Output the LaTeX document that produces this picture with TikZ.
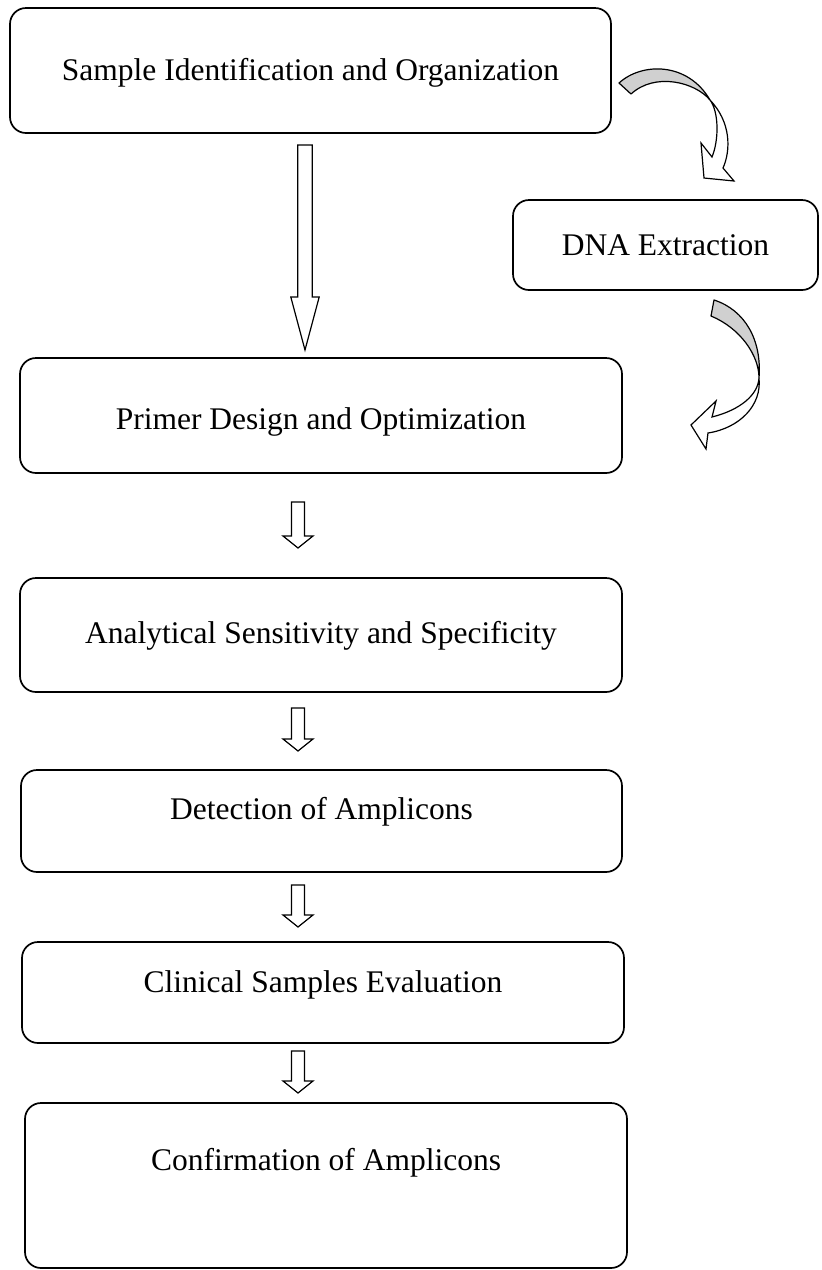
\documentclass[tikz,border=0pt]{standalone}
\usepackage{fontspec}
\setmainfont{Liberation Serif}
\definecolor{arrowgray}{RGB}{208,208,208}
\newcommand{\BlockDown}[6]{% cx, ytop, ybase, ytip, shaft half, head half
  \draw[blockarrow] (#1-#5,#2) -- (#1+#5,#2) -- (#1+#5,#3) -- (#1+#6,#3) -- (#1,#4)
    -- (#1-#6,#3) -- (#1-#5,#3) -- cycle;}
\begin{document}
\begin{tikzpicture}[x=1pt,y=-1pt,
  stepbox/.style={draw, line width=1.7pt, rounded corners=16pt, fill=white,
    font=\fontsize{31.5}{37}\selectfont, text height=20.85pt, text depth=0pt,
    inner sep=0pt, outer sep=0pt},
  textup/.style={text depth=#1pt},
  textdown/.style={text height=#1pt},
  blockarrow/.style={draw, line width=1.2pt, fill=white, line join=miter},
  curvegray/.style={draw, line width=1.2pt, fill=arrowgray, line join=round},
  curvewhite/.style={draw, line width=1.2pt, fill=white, line join=miter}]
\useasboundingbox (0,0) rectangle (822,1270);

\node[stepbox, minimum width=601pt, minimum height=125pt] (b1) at (310.5,70.5) {Sample Identification and Organization};
\node[stepbox, minimum width=305pt, minimum height=90pt] (b2) at (665.5,245) {DNA Extraction};
\node[stepbox, textdown=28.85, minimum width=602pt, minimum height=115pt] (b3) at (321,415.5) {Primer Design and Optimization};
\node[stepbox, textup=4, minimum width=602pt, minimum height=114pt] (b4) at (321,635) {Analytical Sensitivity and Specificity};
\node[stepbox, textup=24, minimum width=601pt, minimum height=102pt] (b5) at (321.5,821) {Detection of Amplicons};
\node[stepbox, textup=20, minimum width=602pt, minimum height=101pt] (b6) at (323,992.5) {Clinical Samples Evaluation};
\node[stepbox, textup=50, minimum width=602pt, minimum height=165pt] (b7) at (326,1185.5) {Confirmation of Amplicons};

% long block arrow b1 -> b3
\BlockDown{305}{145}{297}{350}{7.2}{14.2}
% short block arrows
\BlockDown{298}{502}{536}{548}{6.5}{15}
\BlockDown{298}{708}{739}{751}{6.5}{15}
\BlockDown{298}{885}{915}{927}{6.5}{15}
\BlockDown{298}{1051}{1081}{1093}{6.5}{15}

% curved arrow b1 -> b2
\coordinate (xa) at (710,100);
\draw[curvewhite] (xa) .. controls (719,112) and (719,140) .. (712,157)
  -- (701,143) -- (704,178) -- (734,181) -- (723,168)
  .. controls (731,150) and (731,122) .. (xa);
\draw[curvegray] (619,83) .. controls (642,62) and (688,62) .. (xa)
  .. controls (695,82) and (655,72) .. (631,94) -- cycle;

% curved arrow b2 -> b3
\coordinate (xb) at (759,378);
\draw[curvewhite] (xb) .. controls (758,395) and (740,410) .. (712,417)
  -- (716,401) -- (691,425) -- (706,449) -- (708,433)
  .. controls (740,428) and (762,405) .. (xb);
\draw[curvegray] (714,300) .. controls (745,310) and (762,340) .. (xb)
  .. controls (759,355) and (740,328) .. (711,316) -- cycle;
\end{tikzpicture}
\end{document}
